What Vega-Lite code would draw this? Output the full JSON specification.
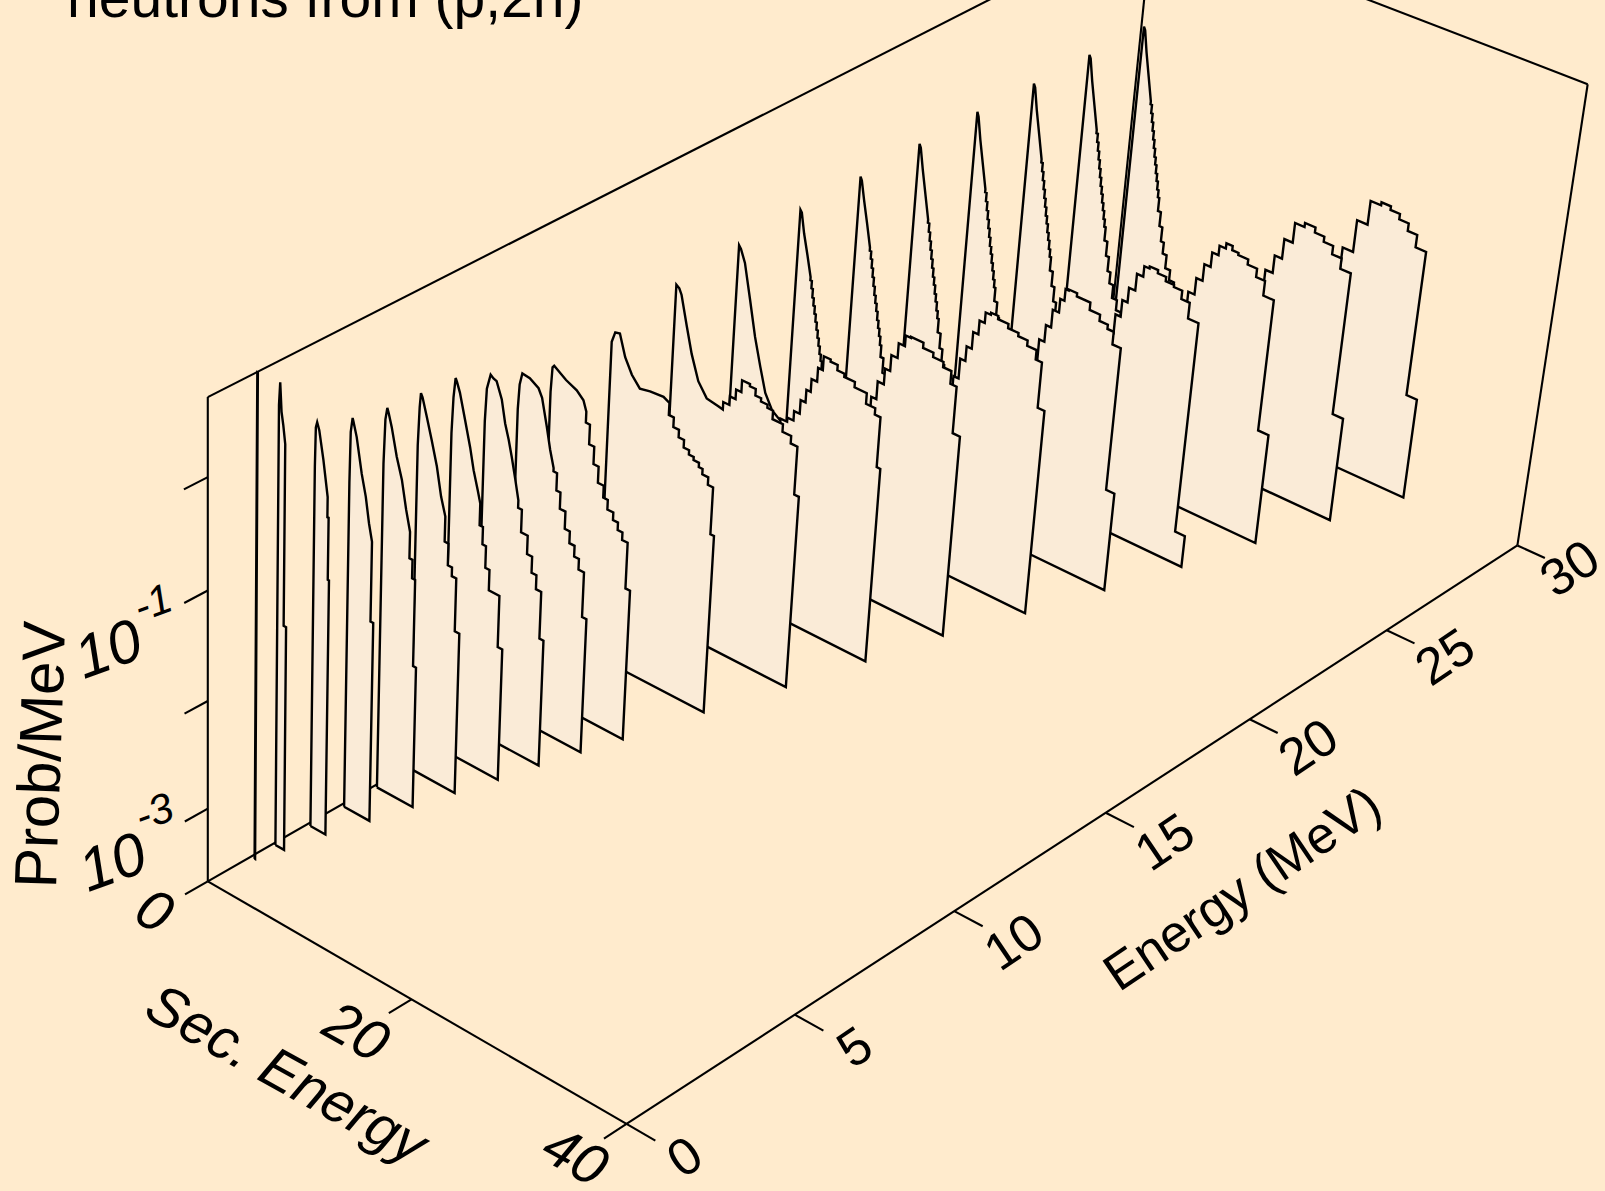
{"$schema":"https://vega.github.io/schema/vega-lite/v6.json","width":1605,"height":1191,"autosize":{"type":"fit","contains":"padding"},"padding":0,"background":"#FFEBCD","config":{"view":{"stroke":null}},
"datasets":{
"frame":[
{"seg":"floorFront","i":1,"E":0,"s":0,"lp":-3.69},{"seg":"floorFront","i":2,"E":0,"s":40,"lp":-3.69},
{"seg":"floorRight","i":1,"E":0,"s":40,"lp":-3.69},{"seg":"floorRight","i":2,"E":30,"s":40,"lp":-3.69},
{"seg":"floorBack","i":1,"E":0,"s":0,"lp":-3.69},{"seg":"floorBack","i":2,"E":30,"s":0,"lp":-3.69},
{"seg":"edgeO","i":1,"E":0,"s":0,"lp":-3.69},{"seg":"edgeO","i":2,"E":0,"s":0,"lp":0.69},
{"seg":"topBack","i":1,"E":0,"s":0,"lp":0.69},{"seg":"topBack","i":2,"E":30,"s":-0.75,"lp":0.69},
{"seg":"edgeB","i":1,"E":30,"s":40,"lp":-3.69},{"seg":"edgeB","i":2,"E":30,"s":40,"lp":0.753},
{"seg":"topRight","i":1,"E":30,"s":40,"lp":0.753},{"seg":"topRight","i":2,"E":30,"s":0,"lp":0.69},
{"seg":"edgeC","i":1,"E":30,"s":-0.75,"lp":-3.69},{"seg":"edgeC","i":2,"E":30,"s":-0.75,"lp":0.69},
{"seg":"tz-3","i":1,"E":0,"s":0,"lp":-3},{"seg":"tz-3","i":2,"E":-0.65,"s":0,"lp":-3},
{"seg":"tz-2","i":1,"E":0,"s":0,"lp":-2},{"seg":"tz-2","i":2,"E":-0.65,"s":0,"lp":-2},
{"seg":"tz-1","i":1,"E":0,"s":0,"lp":-1},{"seg":"tz-1","i":2,"E":-0.65,"s":0,"lp":-1},
{"seg":"tz0","i":1,"E":0,"s":0,"lp":0},{"seg":"tz0","i":2,"E":-0.65,"s":0,"lp":0},
{"seg":"ts0","i":1,"E":0,"s":0,"lp":-3.69},{"seg":"ts0","i":2,"E":-0.65,"s":0,"lp":-3.69},
{"seg":"ts20","i":1,"E":0,"s":20,"lp":-3.69},{"seg":"ts20","i":2,"E":-0.65,"s":20,"lp":-3.69},
{"seg":"ts40","i":1,"E":0,"s":40,"lp":-3.69},{"seg":"ts40","i":2,"E":-0.65,"s":40,"lp":-3.69},
{"seg":"te0","i":1,"E":0,"s":40,"lp":-3.69},{"seg":"te0","i":2,"E":0,"s":42.6,"lp":-3.69},
{"seg":"te5","i":1,"E":5,"s":40,"lp":-3.69},{"seg":"te5","i":2,"E":5,"s":42.6,"lp":-3.69},
{"seg":"te10","i":1,"E":10,"s":40,"lp":-3.69},{"seg":"te10","i":2,"E":10,"s":42.6,"lp":-3.69},
{"seg":"te15","i":1,"E":15,"s":40,"lp":-3.69},{"seg":"te15","i":2,"E":15,"s":42.6,"lp":-3.69},
{"seg":"te20","i":1,"E":20,"s":40,"lp":-3.69},{"seg":"te20","i":2,"E":20,"s":42.6,"lp":-3.69},
{"seg":"te25","i":1,"E":25,"s":40,"lp":-3.69},{"seg":"te25","i":2,"E":25,"s":42.6,"lp":-3.69},
{"seg":"te30","i":1,"E":30,"s":40,"lp":-3.69},{"seg":"te30","i":2,"E":30,"s":42.6,"lp":-3.69}
],
"labels":[
{"t":"neutrons from (p,2n)","g":"title","E":-3.55,"s":0,"lp":4.28},
{"t":"0","g":"sec","E":-1.55,"s":0,"lp":-3.69},{"t":"20","g":"sec","E":-1.6,"s":20,"lp":-3.69},{"t":"40","g":"sec","E":-1.5,"s":40,"lp":-3.69},{"t":"Sec. Energy","g":"sec","E":-3.55,"s":20,"lp":-3.69},
{"t":"0","g":"en","E":0,"s":45.3,"lp":-3.69},{"t":"5","g":"en","E":5,"s":45.5,"lp":-3.69},{"t":"10","g":"en","E":10,"s":45.5,"lp":-3.69},{"t":"15","g":"en","E":15,"s":45.5,"lp":-3.69},{"t":"20","g":"en","E":20,"s":45.5,"lp":-3.69},{"t":"25","g":"en","E":25,"s":45.5,"lp":-3.69},{"t":"30","g":"en","E":30,"s":45,"lp":-3.69},{"t":"Energy (MeV)","g":"en","E":14.8,"s":53,"lp":-3.69},
{"t":"Prob/MeV","g":"prob","E":-4.5,"s":0,"lp":-1.675},
{"t":"10","g":"ten","E":-2.7,"s":0,"lp":-1.07},{"t":"10","g":"ten","E":-2.65,"s":0,"lp":-3.02},
{"t":"-1","g":"sup","E":-1.5,"s":0,"lp":-0.86},{"t":"-3","g":"sup","E":-1.5,"s":0,"lp":-2.76}
],
"curves":[
{"E":30,"lo":-0.5,"hi":-0.5,"lp":-3.73},{"E":30,"lo":-0.5,"hi":-0.35,"lp":-0.35,"lp2":-0.38},{"E":30,"lo":-0.35,"hi":0,"lp":-0.38,"lp2":-0.58},{"E":30,"lo":0,"hi":0.45,"lp":-0.58,"lp2":-0.8},{"E":30,"lo":0.45,"hi":0.9,"lp":-0.8,"lp2":-1.02},{"E":30,"lo":0.9,"hi":1.05,"lp":-1.05},{"E":30,"lo":1.05,"hi":1.2,"lp":-1.13},{"E":30,"lo":1.2,"hi":1.35,"lp":-1.21},{"E":30,"lo":1.35,"hi":1.5,"lp":-1.29},{"E":30,"lo":1.5,"hi":1.65,"lp":-1.37},{"E":30,"lo":1.65,"hi":1.8,"lp":-1.45},{"E":30,"lo":1.8,"hi":1.95,"lp":-1.53},{"E":30,"lo":1.95,"hi":2.1,"lp":-1.6},{"E":30,"lo":2.1,"hi":2.25,"lp":-1.68},{"E":30,"lo":2.25,"hi":2.4,"lp":-1.75},{"E":30,"lo":2.4,"hi":2.55,"lp":-1.83},{"E":30,"lo":2.55,"hi":2.7,"lp":-1.9},{"E":30,"lo":2.7,"hi":3,"lp":-2.03},{"E":30,"lo":3,"hi":3.3,"lp":-2.17},{"E":30,"lo":3.3,"hi":3.6,"lp":-2.31},{"E":30,"lo":3.6,"hi":4,"lp":-2.42},{"E":30,"lo":4,"hi":4.5,"lp":-2.55},{"E":30,"lo":4.5,"hi":5,"lp":-2.65},{"E":30,"lo":5,"hi":18,"lp":-2.85},{"E":30,"lo":18,"hi":19,"lp":-2.4},{"E":30,"lo":19,"hi":19.9,"lp":-2.1},{"E":30,"lo":19.9,"hi":20.5,"lp":-1.85},{"E":30,"lo":20.5,"hi":21.5,"lp":-1.62},{"E":30,"lo":21.5,"hi":22.5,"lp":-1.31},{"E":30,"lo":22.5,"hi":23.5,"lp":-1.08},{"E":30,"lo":23.5,"hi":24.4,"lp":-1.05},{"E":30,"lo":24.4,"hi":25.3,"lp":-1.085},{"E":30,"lo":25.3,"hi":26.2,"lp":-1.137},{"E":30,"lo":26.2,"hi":27.1,"lp":-1.21},{"E":30,"lo":27.1,"hi":28.1,"lp":-1.33},{"E":30,"lo":28.1,"hi":29.1,"lp":-2.74},{"E":30,"lo":29.1,"hi":-0.5,"lp":-3.73},
{"E":28,"lo":-0.5,"hi":-0.5,"lp":-3.73},{"E":28,"lo":-0.5,"hi":-0.35,"lp":-0.35,"lp2":-0.38},{"E":28,"lo":-0.35,"hi":0,"lp":-0.38,"lp2":-0.58},{"E":28,"lo":0,"hi":0.45,"lp":-0.58,"lp2":-0.8},{"E":28,"lo":0.45,"hi":0.9,"lp":-0.8,"lp2":-1.02},{"E":28,"lo":0.9,"hi":1.05,"lp":-1.05},{"E":28,"lo":1.05,"hi":1.2,"lp":-1.13},{"E":28,"lo":1.2,"hi":1.35,"lp":-1.21},{"E":28,"lo":1.35,"hi":1.5,"lp":-1.29},{"E":28,"lo":1.5,"hi":1.65,"lp":-1.37},{"E":28,"lo":1.65,"hi":1.8,"lp":-1.45},{"E":28,"lo":1.8,"hi":1.95,"lp":-1.53},{"E":28,"lo":1.95,"hi":2.1,"lp":-1.6},{"E":28,"lo":2.1,"hi":2.25,"lp":-1.68},{"E":28,"lo":2.25,"hi":2.4,"lp":-1.75},{"E":28,"lo":2.4,"hi":2.55,"lp":-1.83},{"E":28,"lo":2.55,"hi":2.7,"lp":-1.9},{"E":28,"lo":2.7,"hi":3,"lp":-2.03},{"E":28,"lo":3,"hi":3.3,"lp":-2.17},{"E":28,"lo":3.3,"hi":3.6,"lp":-2.31},{"E":28,"lo":3.6,"hi":4,"lp":-2.42},{"E":28,"lo":4,"hi":4.5,"lp":-2.55},{"E":28,"lo":4.5,"hi":5,"lp":-2.65},{"E":28,"lo":5,"hi":16,"lp":-2.8},{"E":28,"lo":16,"hi":17,"lp":-2.3},{"E":28,"lo":17,"hi":17.6,"lp":-2},{"E":28,"lo":17.6,"hi":18.2,"lp":-1.8},{"E":28,"lo":18.2,"hi":18.9,"lp":-1.64},{"E":28,"lo":18.9,"hi":19.6,"lp":-1.47},{"E":28,"lo":19.6,"hi":20.4,"lp":-1.28},{"E":28,"lo":20.4,"hi":21.3,"lp":-1.09},{"E":28,"lo":21.3,"hi":22.3,"lp":-1.05},{"E":28,"lo":22.3,"hi":23.2,"lp":-1.1},{"E":28,"lo":23.2,"hi":24.1,"lp":-1.15},{"E":28,"lo":24.1,"hi":25,"lp":-1.23},{"E":28,"lo":25,"hi":26,"lp":-1.33},{"E":28,"lo":26,"hi":27,"lp":-2.71},{"E":28,"lo":27,"hi":-0.5,"lp":-3.73},
{"E":26,"lo":-0.5,"hi":-0.5,"lp":-3.73},{"E":26,"lo":-0.5,"hi":-0.35,"lp":-0.35,"lp2":-0.38},{"E":26,"lo":-0.35,"hi":0,"lp":-0.38,"lp2":-0.58},{"E":26,"lo":0,"hi":0.45,"lp":-0.58,"lp2":-0.8},{"E":26,"lo":0.45,"hi":0.9,"lp":-0.8,"lp2":-1.02},{"E":26,"lo":0.9,"hi":1.05,"lp":-1.05},{"E":26,"lo":1.05,"hi":1.2,"lp":-1.13},{"E":26,"lo":1.2,"hi":1.35,"lp":-1.21},{"E":26,"lo":1.35,"hi":1.5,"lp":-1.29},{"E":26,"lo":1.5,"hi":1.65,"lp":-1.37},{"E":26,"lo":1.65,"hi":1.8,"lp":-1.45},{"E":26,"lo":1.8,"hi":1.95,"lp":-1.53},{"E":26,"lo":1.95,"hi":2.1,"lp":-1.6},{"E":26,"lo":2.1,"hi":2.25,"lp":-1.68},{"E":26,"lo":2.25,"hi":2.4,"lp":-1.75},{"E":26,"lo":2.4,"hi":2.55,"lp":-1.83},{"E":26,"lo":2.55,"hi":2.7,"lp":-1.9},{"E":26,"lo":2.7,"hi":3,"lp":-2.03},{"E":26,"lo":3,"hi":3.3,"lp":-2.17},{"E":26,"lo":3.3,"hi":3.6,"lp":-2.31},{"E":26,"lo":3.6,"hi":4,"lp":-2.42},{"E":26,"lo":4,"hi":4.5,"lp":-2.55},{"E":26,"lo":4.5,"hi":5,"lp":-2.65},{"E":26,"lo":5,"hi":14,"lp":-2.75},{"E":26,"lo":14,"hi":15,"lp":-2.3},{"E":26,"lo":15,"hi":15.5,"lp":-2},{"E":26,"lo":15.5,"hi":16,"lp":-1.82},{"E":26,"lo":16,"hi":16.6,"lp":-1.65},{"E":26,"lo":16.6,"hi":17.2,"lp":-1.49},{"E":26,"lo":17.2,"hi":17.8,"lp":-1.33},{"E":26,"lo":17.8,"hi":18.4,"lp":-1.19},{"E":26,"lo":18.4,"hi":19,"lp":-1.1},{"E":26,"lo":19,"hi":19.6,"lp":-1.05},{"E":26,"lo":19.6,"hi":20.2,"lp":-1.09},{"E":26,"lo":20.2,"hi":21.15,"lp":-1.11},{"E":26,"lo":21.15,"hi":22.05,"lp":-1.16},{"E":26,"lo":22.05,"hi":22.9,"lp":-1.24},{"E":26,"lo":22.9,"hi":23.9,"lp":-1.38},{"E":26,"lo":23.9,"hi":24.9,"lp":-2.65},{"E":26,"lo":24.9,"hi":-0.5,"lp":-3.73},
{"E":24,"lo":-0.5,"hi":-0.5,"lp":-3.73},{"E":24,"lo":-0.5,"hi":-0.35,"lp":-0.34,"lp2":-0.38},{"E":24,"lo":-0.35,"hi":0,"lp":-0.38,"lp2":-0.58},{"E":24,"lo":0,"hi":0.45,"lp":-0.58,"lp2":-0.8},{"E":24,"lo":0.45,"hi":0.9,"lp":-0.8,"lp2":-1.02},{"E":24,"lo":0.9,"hi":1.05,"lp":-1.05},{"E":24,"lo":1.05,"hi":1.2,"lp":-1.13},{"E":24,"lo":1.2,"hi":1.35,"lp":-1.21},{"E":24,"lo":1.35,"hi":1.5,"lp":-1.29},{"E":24,"lo":1.5,"hi":1.65,"lp":-1.37},{"E":24,"lo":1.65,"hi":1.8,"lp":-1.45},{"E":24,"lo":1.8,"hi":1.95,"lp":-1.53},{"E":24,"lo":1.95,"hi":2.1,"lp":-1.6},{"E":24,"lo":2.1,"hi":2.25,"lp":-1.68},{"E":24,"lo":2.25,"hi":2.4,"lp":-1.75},{"E":24,"lo":2.4,"hi":2.55,"lp":-1.83},{"E":24,"lo":2.55,"hi":2.7,"lp":-1.9},{"E":24,"lo":2.7,"hi":3,"lp":-2.03},{"E":24,"lo":3,"hi":3.3,"lp":-2.17},{"E":24,"lo":3.3,"hi":3.6,"lp":-2.31},{"E":24,"lo":3.6,"hi":4,"lp":-2.42},{"E":24,"lo":4,"hi":4.5,"lp":-2.55},{"E":24,"lo":4.5,"hi":5,"lp":-2.65},{"E":24,"lo":5,"hi":12,"lp":-2.7},{"E":24,"lo":12,"hi":13.2,"lp":-2.3},{"E":24,"lo":13.2,"hi":13.8,"lp":-2},{"E":24,"lo":13.8,"hi":14.3,"lp":-1.82},{"E":24,"lo":14.3,"hi":14.8,"lp":-1.64},{"E":24,"lo":14.8,"hi":15.3,"lp":-1.48},{"E":24,"lo":15.3,"hi":15.9,"lp":-1.34},{"E":24,"lo":15.9,"hi":16.5,"lp":-1.18},{"E":24,"lo":16.5,"hi":17,"lp":-1.08},{"E":24,"lo":17,"hi":17.8,"lp":-1.06},{"E":24,"lo":17.8,"hi":18.6,"lp":-1.09},{"E":24,"lo":18.6,"hi":19.4,"lp":-1.13},{"E":24,"lo":19.4,"hi":20.2,"lp":-1.15},{"E":24,"lo":20.2,"hi":21,"lp":-1.23},{"E":24,"lo":21,"hi":22,"lp":-1.38},{"E":24,"lo":22,"hi":22.95,"lp":-3.42},{"E":24,"lo":22.95,"hi":-0.5,"lp":-3.73},
{"E":22,"lo":-0.5,"hi":-0.5,"lp":-3.73},{"E":22,"lo":-0.5,"hi":-0.35,"lp":-0.36,"lp2":-0.39},{"E":22,"lo":-0.35,"hi":0,"lp":-0.39,"lp2":-0.58},{"E":22,"lo":0,"hi":0.45,"lp":-0.58,"lp2":-0.8},{"E":22,"lo":0.45,"hi":0.9,"lp":-0.8,"lp2":-1.02},{"E":22,"lo":0.9,"hi":1.05,"lp":-1.05},{"E":22,"lo":1.05,"hi":1.2,"lp":-1.13},{"E":22,"lo":1.2,"hi":1.35,"lp":-1.21},{"E":22,"lo":1.35,"hi":1.5,"lp":-1.29},{"E":22,"lo":1.5,"hi":1.65,"lp":-1.37},{"E":22,"lo":1.65,"hi":1.8,"lp":-1.45},{"E":22,"lo":1.8,"hi":1.95,"lp":-1.53},{"E":22,"lo":1.95,"hi":2.1,"lp":-1.6},{"E":22,"lo":2.1,"hi":2.25,"lp":-1.68},{"E":22,"lo":2.25,"hi":2.4,"lp":-1.75},{"E":22,"lo":2.4,"hi":2.55,"lp":-1.83},{"E":22,"lo":2.55,"hi":2.7,"lp":-1.9},{"E":22,"lo":2.7,"hi":3,"lp":-2.03},{"E":22,"lo":3,"hi":3.3,"lp":-2.17},{"E":22,"lo":3.3,"hi":3.6,"lp":-2.31},{"E":22,"lo":3.6,"hi":4,"lp":-2.42},{"E":22,"lo":4,"hi":4.5,"lp":-2.55},{"E":22,"lo":4.5,"hi":5,"lp":-2.65},{"E":22,"lo":5,"hi":9,"lp":-2.6},{"E":22,"lo":9,"hi":11.9,"lp":-2.2},{"E":22,"lo":11.9,"hi":12.4,"lp":-1.85},{"E":22,"lo":12.4,"hi":12.9,"lp":-1.66},{"E":22,"lo":12.9,"hi":13.4,"lp":-1.5},{"E":22,"lo":13.4,"hi":14,"lp":-1.33},{"E":22,"lo":14,"hi":14.4,"lp":-1.2},{"E":22,"lo":14.4,"hi":14.7,"lp":-1.09},{"E":22,"lo":14.7,"hi":15.5,"lp":-1.08},{"E":22,"lo":15.5,"hi":16.8,"lp":-1.11},{"E":22,"lo":16.8,"hi":17.8,"lp":-1.18},{"E":22,"lo":17.8,"hi":18.6,"lp":-1.24},{"E":22,"lo":18.6,"hi":19.2,"lp":-1.28},{"E":22,"lo":19.2,"hi":20,"lp":-1.4},{"E":22,"lo":20,"hi":20.8,"lp":-2.77},{"E":22,"lo":20.8,"hi":-0.5,"lp":-3.73},
{"E":20,"lo":-0.5,"hi":-0.5,"lp":-3.73},{"E":20,"lo":-0.5,"hi":-0.35,"lp":-0.38,"lp2":-0.41},{"E":20,"lo":-0.35,"hi":0,"lp":-0.41,"lp2":-0.58},{"E":20,"lo":0,"hi":0.45,"lp":-0.58,"lp2":-0.78},{"E":20,"lo":0.45,"hi":0.9,"lp":-0.78,"lp2":-0.99},{"E":20,"lo":0.9,"hi":1.05,"lp":-1.02},{"E":20,"lo":1.05,"hi":1.2,"lp":-1.09},{"E":20,"lo":1.2,"hi":1.35,"lp":-1.17},{"E":20,"lo":1.35,"hi":1.5,"lp":-1.25},{"E":20,"lo":1.5,"hi":1.65,"lp":-1.33},{"E":20,"lo":1.65,"hi":1.8,"lp":-1.41},{"E":20,"lo":1.8,"hi":1.95,"lp":-1.48},{"E":20,"lo":1.95,"hi":2.1,"lp":-1.55},{"E":20,"lo":2.1,"hi":2.25,"lp":-1.63},{"E":20,"lo":2.25,"hi":2.4,"lp":-1.7},{"E":20,"lo":2.4,"hi":2.55,"lp":-1.77},{"E":20,"lo":2.55,"hi":2.7,"lp":-1.85},{"E":20,"lo":2.7,"hi":3,"lp":-1.96},{"E":20,"lo":3,"hi":3.3,"lp":-2.1},{"E":20,"lo":3.3,"hi":3.6,"lp":-2.22},{"E":20,"lo":3.6,"hi":4,"lp":-2.33},{"E":20,"lo":4,"hi":6,"lp":-2.45},{"E":20,"lo":6,"hi":9,"lp":-2.4},{"E":20,"lo":9,"hi":9.8,"lp":-2.05},{"E":20,"lo":9.8,"hi":10.3,"lp":-1.82},{"E":20,"lo":10.3,"hi":10.8,"lp":-1.63},{"E":20,"lo":10.8,"hi":11.3,"lp":-1.49},{"E":20,"lo":11.3,"hi":11.8,"lp":-1.33},{"E":20,"lo":11.8,"hi":12.3,"lp":-1.2},{"E":20,"lo":12.3,"hi":12.8,"lp":-1.1},{"E":20,"lo":12.8,"hi":13.5,"lp":-1.08},{"E":20,"lo":13.5,"hi":14.5,"lp":-1.11},{"E":20,"lo":14.5,"hi":15.5,"lp":-1.15},{"E":20,"lo":15.5,"hi":16.4,"lp":-1.18},{"E":20,"lo":16.4,"hi":17.3,"lp":-1.23},{"E":20,"lo":17.3,"hi":17.9,"lp":-1.32},{"E":20,"lo":17.9,"hi":18.55,"lp":-1.75},{"E":20,"lo":18.55,"hi":-0.5,"lp":-3.73},
{"E":18,"lo":-0.5,"hi":-0.5,"lp":-3.73},{"E":18,"lo":-0.5,"hi":-0.35,"lp":-0.4,"lp2":-0.42},{"E":18,"lo":-0.35,"hi":0,"lp":-0.42,"lp2":-0.6},{"E":18,"lo":0,"hi":0.45,"lp":-0.6,"lp2":-0.78},{"E":18,"lo":0.45,"hi":0.9,"lp":-0.78,"lp2":-0.97},{"E":18,"lo":0.9,"hi":1.05,"lp":-1},{"E":18,"lo":1.05,"hi":1.2,"lp":-1.07},{"E":18,"lo":1.2,"hi":1.35,"lp":-1.15},{"E":18,"lo":1.35,"hi":1.5,"lp":-1.22},{"E":18,"lo":1.5,"hi":1.65,"lp":-1.29},{"E":18,"lo":1.65,"hi":1.8,"lp":-1.36},{"E":18,"lo":1.8,"hi":1.95,"lp":-1.43},{"E":18,"lo":1.95,"hi":2.1,"lp":-1.5},{"E":18,"lo":2.1,"hi":2.25,"lp":-1.57},{"E":18,"lo":2.25,"hi":2.4,"lp":-1.64},{"E":18,"lo":2.4,"hi":2.55,"lp":-1.7},{"E":18,"lo":2.55,"hi":2.7,"lp":-1.76},{"E":18,"lo":2.7,"hi":3,"lp":-1.88},{"E":18,"lo":3,"hi":3.6,"lp":-2.05},{"E":18,"lo":3.6,"hi":4.2,"lp":-2.2},{"E":18,"lo":4.2,"hi":6,"lp":-2.45},{"E":18,"lo":6,"hi":7,"lp":-2.3},{"E":18,"lo":7,"hi":7.5,"lp":-2},{"E":18,"lo":7.5,"hi":8,"lp":-1.81},{"E":18,"lo":8,"hi":8.6,"lp":-1.64},{"E":18,"lo":8.6,"hi":9.1,"lp":-1.49},{"E":18,"lo":9.1,"hi":9.7,"lp":-1.34},{"E":18,"lo":9.7,"hi":10.3,"lp":-1.2},{"E":18,"lo":10.3,"hi":10.8,"lp":-1.1},{"E":18,"lo":10.8,"hi":12,"lp":-1.09},{"E":18,"lo":12,"hi":13,"lp":-1.14},{"E":18,"lo":13,"hi":14,"lp":-1.18},{"E":18,"lo":14,"hi":14.8,"lp":-1.23},{"E":18,"lo":14.8,"hi":15.4,"lp":-1.35},{"E":18,"lo":15.4,"hi":16.1,"lp":-1.79},{"E":18,"lo":16.1,"hi":-0.5,"lp":-3.73},
{"E":16,"lo":-0.5,"hi":-0.5,"lp":-3.73},{"E":16,"lo":-0.5,"hi":-0.3,"lp":-0.435,"lp2":-0.46},{"E":16,"lo":-0.3,"hi":0.16,"lp":-0.46,"lp2":-0.57},{"E":16,"lo":0.16,"hi":0.86,"lp":-0.57,"lp2":-0.88},{"E":16,"lo":0.86,"hi":1.56,"lp":-0.88,"lp2":-1.2},{"E":16,"lo":1.56,"hi":2.24,"lp":-1.2,"lp2":-1.45},{"E":16,"lo":2.24,"hi":2.88,"lp":-1.45,"lp2":-1.67},{"E":16,"lo":2.88,"hi":3.63,"lp":-1.67,"lp2":-1.8},{"E":16,"lo":3.63,"hi":4.5,"lp":-1.8,"lp2":-1.86},{"E":16,"lo":4.5,"hi":5.15,"lp":-1.84},{"E":16,"lo":5.15,"hi":5.75,"lp":-1.8},{"E":16,"lo":5.75,"hi":6.3,"lp":-1.71},{"E":16,"lo":6.3,"hi":6.78,"lp":-1.58},{"E":16,"lo":6.78,"hi":7.2,"lp":-1.46},{"E":16,"lo":7.2,"hi":7.74,"lp":-1.34},{"E":16,"lo":7.74,"hi":8.2,"lp":-1.21},{"E":16,"lo":8.2,"hi":8.87,"lp":-1.08},{"E":16,"lo":8.87,"hi":9.56,"lp":-1.1},{"E":16,"lo":9.56,"hi":10.25,"lp":-1.15},{"E":16,"lo":10.25,"hi":11.28,"lp":-1.18},{"E":16,"lo":11.28,"hi":12.46,"lp":-1.23},{"E":16,"lo":12.46,"hi":13.35,"lp":-1.33},{"E":16,"lo":13.35,"hi":13.9,"lp":-1.39},{"E":16,"lo":13.9,"hi":14.25,"lp":-1.86},{"E":16,"lo":14.25,"hi":-0.5,"lp":-3.73},
{"E":14,"lo":-0.5,"hi":-0.5,"lp":-3.73},{"E":14,"lo":-0.5,"hi":-0.2,"lp":-0.5,"lp2":-0.52},{"E":14,"lo":-0.2,"hi":0.05,"lp":-0.52,"lp2":-0.57},{"E":14,"lo":0.05,"hi":0.71,"lp":-0.57,"lp2":-0.83},{"E":14,"lo":0.71,"hi":1.32,"lp":-0.83,"lp2":-1.06},{"E":14,"lo":1.32,"hi":2.1,"lp":-1.06,"lp2":-1.28},{"E":14,"lo":2.1,"hi":3,"lp":-1.28,"lp2":-1.4},{"E":14,"lo":3,"hi":4.15,"lp":-1.4,"lp2":-1.42},{"E":14,"lo":4.15,"hi":4.6,"lp":-1.42,"lp2":-1.43},{"E":14,"lo":4.6,"hi":5.2,"lp":-1.36},{"E":14,"lo":5.2,"hi":5.75,"lp":-1.28},{"E":14,"lo":5.75,"hi":6.26,"lp":-1.19},{"E":14,"lo":6.26,"hi":7.03,"lp":-1.08},{"E":14,"lo":7.03,"hi":7.6,"lp":-1.1},{"E":14,"lo":7.6,"hi":8.16,"lp":-1.16},{"E":14,"lo":8.16,"hi":8.8,"lp":-1.19},{"E":14,"lo":8.8,"hi":9.35,"lp":-1.22},{"E":14,"lo":9.35,"hi":10.36,"lp":-1.3},{"E":14,"lo":10.36,"hi":11.2,"lp":-1.37},{"E":14,"lo":11.2,"hi":11.85,"lp":-1.44},{"E":14,"lo":11.85,"hi":12.3,"lp":-1.89},{"E":14,"lo":12.3,"hi":-0.5,"lp":-3.73},
{"E":12,"lo":-0.5,"hi":-0.5,"lp":-3.73},{"E":12,"lo":-0.5,"hi":-0.2,"lp":-0.72,"lp2":-0.62},{"E":12,"lo":-0.2,"hi":0.25,"lp":-0.62,"lp2":-0.61},{"E":12,"lo":0.25,"hi":0.86,"lp":-0.61,"lp2":-0.8},{"E":12,"lo":0.86,"hi":1.58,"lp":-0.8,"lp2":-0.93},{"E":12,"lo":1.58,"hi":2.41,"lp":-0.93,"lp2":-1.02},{"E":12,"lo":2.41,"hi":3.39,"lp":-1.02,"lp2":-1},{"E":12,"lo":3.39,"hi":4.7,"lp":-1,"lp2":-0.99},{"E":12,"lo":4.7,"hi":5.29,"lp":-0.99,"lp2":-1.02},{"E":12,"lo":5.29,"hi":5.78,"lp":-1.13},{"E":12,"lo":5.78,"hi":6.33,"lp":-1.22},{"E":12,"lo":6.33,"hi":6.86,"lp":-1.29},{"E":12,"lo":6.86,"hi":7.39,"lp":-1.36},{"E":12,"lo":7.39,"hi":7.86,"lp":-1.4},{"E":12,"lo":7.86,"hi":8.39,"lp":-1.43},{"E":12,"lo":8.39,"hi":8.76,"lp":-1.47},{"E":12,"lo":8.76,"hi":9.34,"lp":-1.52},{"E":12,"lo":9.34,"hi":9.85,"lp":-1.59},{"E":12,"lo":9.85,"hi":10.2,"lp":-2.03},{"E":12,"lo":10.2,"hi":-0.5,"lp":-3.73},
{"E":10,"lo":-0.1,"hi":-0.1,"lp":-3.73},{"E":10,"lo":-0.1,"hi":0,"lp":-0.85,"lp2":-0.62},{"E":10,"lo":0,"hi":0.15,"lp":-0.62,"lp2":-0.6},{"E":10,"lo":0.15,"hi":1.34,"lp":-0.6,"lp2":-0.675},{"E":10,"lo":1.34,"hi":2.4,"lp":-0.675,"lp2":-0.72},{"E":10,"lo":2.4,"hi":3.08,"lp":-0.72,"lp2":-0.78},{"E":10,"lo":3.08,"hi":3.4,"lp":-0.78,"lp2":-0.87},{"E":10,"lo":3.4,"hi":3.8,"lp":-0.97},{"E":10,"lo":3.8,"hi":4.3,"lp":-1.15},{"E":10,"lo":4.3,"hi":4.8,"lp":-1.31},{"E":10,"lo":4.8,"hi":5.37,"lp":-1.46},{"E":10,"lo":5.37,"hi":5.82,"lp":-1.57},{"E":10,"lo":5.82,"hi":6.4,"lp":-1.66},{"E":10,"lo":6.4,"hi":6.89,"lp":-1.73},{"E":10,"lo":6.89,"hi":7.36,"lp":-1.8},{"E":10,"lo":7.36,"hi":7.9,"lp":-1.87},{"E":10,"lo":7.9,"hi":8.35,"lp":-2.3},{"E":10,"lo":8.35,"hi":-0.1,"lp":-3.73},
{"E":9,"lo":-0.1,"hi":-0.1,"lp":-3.73},{"E":9,"lo":-0.1,"hi":0,"lp":-0.85,"lp2":-0.62},{"E":9,"lo":0,"hi":0.22,"lp":-0.62,"lp2":-0.51},{"E":9,"lo":0.22,"hi":0.95,"lp":-0.51,"lp2":-0.52},{"E":9,"lo":0.95,"hi":1.82,"lp":-0.52,"lp2":-0.57},{"E":9,"lo":1.82,"hi":2.19,"lp":-0.57,"lp2":-0.64},{"E":9,"lo":2.19,"hi":2.75,"lp":-0.64,"lp2":-0.88},{"E":9,"lo":2.75,"hi":3.15,"lp":-0.88,"lp2":-1.07},{"E":9,"lo":3.15,"hi":3.55,"lp":-1.07,"lp2":-1.22},{"E":9,"lo":3.55,"hi":3.9,"lp":-1.25},{"E":9,"lo":3.9,"hi":4.3,"lp":-1.41},{"E":9,"lo":4.3,"hi":4.85,"lp":-1.56},{"E":9,"lo":4.85,"hi":5.35,"lp":-1.72},{"E":9,"lo":5.35,"hi":5.86,"lp":-1.83},{"E":9,"lo":5.86,"hi":6.33,"lp":-1.93},{"E":9,"lo":6.33,"hi":6.87,"lp":-2.03},{"E":9,"lo":6.87,"hi":7.3,"lp":-2.45},{"E":9,"lo":7.3,"hi":-0.1,"lp":-3.73},
{"E":8,"lo":-0.1,"hi":-0.1,"lp":-3.73},{"E":8,"lo":-0.1,"hi":0,"lp":-0.8,"lp2":-0.5},{"E":8,"lo":0,"hi":0.32,"lp":-0.5,"lp2":-0.36},{"E":8,"lo":0.32,"hi":0.6,"lp":-0.36,"lp2":-0.38},{"E":8,"lo":0.6,"hi":0.91,"lp":-0.38,"lp2":-0.39},{"E":8,"lo":0.91,"hi":1.46,"lp":-0.39,"lp2":-0.53},{"E":8,"lo":1.46,"hi":1.86,"lp":-0.53,"lp2":-0.73},{"E":8,"lo":1.86,"hi":2.25,"lp":-0.73,"lp2":-0.86},{"E":8,"lo":2.25,"hi":2.6,"lp":-0.86,"lp2":-1},{"E":8,"lo":2.6,"hi":3,"lp":-1,"lp2":-1.18},{"E":8,"lo":3,"hi":3.38,"lp":-1.18,"lp2":-1.36},{"E":8,"lo":3.38,"hi":3.75,"lp":-1.43},{"E":8,"lo":3.75,"hi":4.4,"lp":-1.64},{"E":8,"lo":4.4,"hi":4.9,"lp":-1.81},{"E":8,"lo":4.9,"hi":5.38,"lp":-1.96},{"E":8,"lo":5.38,"hi":5.9,"lp":-2.09},{"E":8,"lo":5.9,"hi":6.3,"lp":-2.53},{"E":8,"lo":6.3,"hi":-0.1,"lp":-3.73},
{"E":7,"lo":-0.1,"hi":-0.1,"lp":-3.73},{"E":7,"lo":-0.1,"hi":0,"lp":-0.75,"lp2":-0.42},{"E":7,"lo":0,"hi":0.15,"lp":-0.42,"lp2":-0.24},{"E":7,"lo":0.15,"hi":0.3,"lp":-0.24,"lp2":-0.27},{"E":7,"lo":0.3,"hi":0.6,"lp":-0.27,"lp2":-0.35},{"E":7,"lo":0.6,"hi":1.17,"lp":-0.35,"lp2":-0.57},{"E":7,"lo":1.17,"hi":1.73,"lp":-0.57,"lp2":-0.79},{"E":7,"lo":1.73,"hi":2.13,"lp":-0.79,"lp2":-0.98},{"E":7,"lo":2.13,"hi":2.58,"lp":-0.98,"lp2":-1.14},{"E":7,"lo":2.58,"hi":2.87,"lp":-1.14,"lp2":-1.25},{"E":7,"lo":2.87,"hi":3.2,"lp":-1.45},{"E":7,"lo":3.2,"hi":3.55,"lp":-1.61},{"E":7,"lo":3.55,"hi":3.96,"lp":-1.81},{"E":7,"lo":3.96,"hi":5,"lp":-2},{"E":7,"lo":5,"hi":5.45,"lp":-2.48},{"E":7,"lo":5.45,"hi":-0.1,"lp":-3.73},
{"E":6,"lo":-0.1,"hi":-0.1,"lp":-3.73},{"E":6,"lo":-0.1,"hi":0,"lp":-0.7,"lp2":-0.35},{"E":6,"lo":0,"hi":0.09,"lp":-0.35,"lp2":-0.22},{"E":6,"lo":0.09,"hi":0.25,"lp":-0.22,"lp2":-0.25},{"E":6,"lo":0.25,"hi":0.69,"lp":-0.25,"lp2":-0.4},{"E":6,"lo":0.69,"hi":1.23,"lp":-0.4,"lp2":-0.59},{"E":6,"lo":1.23,"hi":1.79,"lp":-0.59,"lp2":-0.8},{"E":6,"lo":1.79,"hi":2.27,"lp":-0.8,"lp2":-1.05},{"E":6,"lo":2.27,"hi":2.73,"lp":-1.05,"lp2":-1.21},{"E":6,"lo":2.73,"hi":3.1,"lp":-1.44},{"E":6,"lo":3.1,"hi":3.51,"lp":-1.64},{"E":6,"lo":3.51,"hi":3.95,"lp":-1.72},{"E":6,"lo":3.95,"hi":4.4,"lp":-2.21},{"E":6,"lo":4.4,"hi":-0.1,"lp":-3.73},
{"E":5,"lo":-0.1,"hi":-0.1,"lp":-3.73},{"E":5,"lo":-0.1,"hi":0,"lp":-0.7,"lp2":-0.3},{"E":5,"lo":0,"hi":0.16,"lp":-0.3,"lp2":-0.19},{"E":5,"lo":0.16,"hi":0.3,"lp":-0.19,"lp2":-0.23},{"E":5,"lo":0.3,"hi":0.62,"lp":-0.23,"lp2":-0.34},{"E":5,"lo":0.62,"hi":1.16,"lp":-0.34,"lp2":-0.58},{"E":5,"lo":1.16,"hi":1.7,"lp":-0.58,"lp2":-0.76},{"E":5,"lo":1.7,"hi":2.18,"lp":-0.76,"lp2":-1.01},{"E":5,"lo":2.18,"hi":2.6,"lp":-1.01,"lp2":-1.19},{"E":5,"lo":2.6,"hi":2.9,"lp":-1.43},{"E":5,"lo":2.9,"hi":3.2,"lp":-1.6},{"E":5,"lo":3.2,"hi":3.49,"lp":-2.4},{"E":5,"lo":3.49,"hi":-0.1,"lp":-3.73},
{"E":4,"lo":-0.05,"hi":-0.05,"lp":-3.73},{"E":4,"lo":-0.05,"hi":0,"lp":-0.7,"lp2":-0.25},{"E":4,"lo":0,"hi":0.16,"lp":-0.25,"lp2":-0.12},{"E":4,"lo":0.16,"hi":0.25,"lp":-0.12,"lp2":-0.15},{"E":4,"lo":0.25,"hi":0.58,"lp":-0.15,"lp2":-0.27},{"E":4,"lo":0.58,"hi":1.12,"lp":-0.27,"lp2":-0.57},{"E":4,"lo":1.12,"hi":1.55,"lp":-0.57,"lp2":-0.755},{"E":4,"lo":1.55,"hi":1.91,"lp":-0.755,"lp2":-0.98},{"E":4,"lo":1.91,"hi":2.23,"lp":-0.98,"lp2":-1.13},{"E":4,"lo":2.23,"hi":2.5,"lp":-1.86},{"E":4,"lo":2.5,"hi":-0.05,"lp":-3.73},
{"E":3,"lo":-0.05,"hi":-0.05,"lp":-3.73},{"E":3,"lo":-0.05,"hi":0,"lp":-0.4,"lp2":-0.05},{"E":3,"lo":0,"hi":0.12,"lp":-0.05,"lp2":0},{"E":3,"lo":0.12,"hi":0.33,"lp":0,"lp2":-0.06},{"E":3,"lo":0.33,"hi":0.76,"lp":-0.06,"lp2":-0.3},{"E":3,"lo":0.76,"hi":1.22,"lp":-0.3,"lp2":-0.61},{"E":3,"lo":1.22,"hi":1.34,"lp":-0.79},{"E":3,"lo":1.34,"hi":1.46,"lp":-1.35},{"E":3,"lo":1.46,"hi":-0.05,"lp":-3.73},
{"E":2,"lo":-0.15,"hi":-0.15,"lp":-3.73},{"E":2,"lo":-0.15,"hi":-0.05,"lp":0.3,"lp2":0.5},{"E":2,"lo":-0.05,"hi":0.1,"lp":0.5,"lp2":0.25},{"E":2,"lo":0.1,"hi":0.28,"lp":0.25,"lp2":0.14},{"E":2,"lo":0.28,"hi":0.48,"lp":0.14,"lp2":-0.015},{"E":2,"lo":0.48,"hi":0.72,"lp":-1.64},{"E":2,"lo":0.72,"hi":-0.15,"lp":-3.73},
{"E":1.35,"lo":0,"hi":0,"lp":-3.73},{"E":1.35,"lo":0,"hi":0.05,"lp":0.69},{"E":1.35,"lo":0.05,"hi":0,"lp":-3.73}
]},
"encoding":{"x":{"field":"px","type":"quantitative","scale":{"domain":[0,1605],"nice":false,"zero":false},"axis":null},"y":{"field":"py","type":"quantitative","scale":{"domain":[1191,0],"nice":false,"zero":false},"axis":null}},
"layer":[
{"data":{"name":"frame"},"transform":[{"calculate":"(datum.lp+3.69)/4.38","as":"z"},{"calculate":"1-0.00131*datum.s+0.00518*datum.E-0.0554*datum.z","as":"w"},{"calculate":"(207.8+9.647*datum.s+36*datum.E-11.52*datum.z)/datum.w","as":"px"},{"calculate":"(881.3+4.593*datum.s-15.446*datum.E-506.2*datum.z)/datum.w","as":"py"}],
"mark":{"type":"line","stroke":"#000000","strokeWidth":2.1,"clip":true},"encoding":{"detail":{"field":"seg"},"order":{"field":"i","type":"quantitative"}}},
{"data":{"name":"curves"},"transform":[{"fold":["lo","hi"],"as":["side","s"]},{"window":[{"op":"row_number","as":"i"}]},{"calculate":"(datum.side==='hi'&&isValid(datum.lp2)?datum.lp2:datum.lp)","as":"v"},{"calculate":"(datum.v+3.69)/4.38","as":"z"},{"calculate":"1-0.00131*datum.s+0.00518*datum.E-0.0554*datum.z","as":"w"},{"calculate":"(207.8+9.647*datum.s+36*datum.E-11.52*datum.z)/datum.w","as":"px"},{"calculate":"(881.3+4.593*datum.s-15.446*datum.E-506.2*datum.z)/datum.w","as":"py"}],
"mark":{"type":"line","stroke":"#000000","strokeWidth":2.4,"fill":"#FAEBD7","clip":true,"strokeJoin":"miter"},"encoding":{"detail":{"field":"E"},"order":{"field":"i","type":"quantitative"}}},
{"data":{"name":"labels"},"transform":[{"filter":"datum.g==='title'"},{"calculate":"(datum.lp+3.69)/4.38","as":"z"},{"calculate":"1-0.00131*datum.s+0.00518*datum.E-0.0554*datum.z","as":"w"},{"calculate":"(207.8+9.647*datum.s+36*datum.E-11.52*datum.z)/datum.w","as":"px"},{"calculate":"(881.3+4.593*datum.s-15.446*datum.E-506.2*datum.z)/datum.w","as":"py"}],
"mark":{"type":"text","font":"Liberation Sans","fontSize":57,"align":"left","baseline":"alphabetic","color":"#000000","clip":true},"encoding":{"text":{"field":"t"}}},
{"data":{"name":"labels"},"transform":[{"filter":"datum.g==='sec'"},{"calculate":"(datum.lp+3.69)/4.38","as":"z"},{"calculate":"1-0.00131*datum.s+0.00518*datum.E-0.0554*datum.z","as":"w"},{"calculate":"(207.8+9.647*datum.s+36*datum.E-11.52*datum.z)/datum.w","as":"px"},{"calculate":"(881.3+4.593*datum.s-15.446*datum.E-506.2*datum.z)/datum.w","as":"py"}],
"mark":{"type":"text","font":"Liberation Sans","fontStyle":"italic","fontSize":57,"angle":29,"align":"center","baseline":"middle","color":"#000000","clip":true},"encoding":{"text":{"field":"t"}}},
{"data":{"name":"labels"},"transform":[{"filter":"datum.g==='en'"},{"calculate":"(datum.lp+3.69)/4.38","as":"z"},{"calculate":"1-0.00131*datum.s+0.00518*datum.E-0.0554*datum.z","as":"w"},{"calculate":"(207.8+9.647*datum.s+36*datum.E-11.52*datum.z)/datum.w","as":"px"},{"calculate":"(881.3+4.593*datum.s-15.446*datum.E-506.2*datum.z)/datum.w","as":"py"}],
"mark":{"type":"text","font":"Liberation Sans","fontSize":52,"angle":326,"align":"center","baseline":"middle","color":"#000000","clip":true},"encoding":{"text":{"field":"t"}}},
{"data":{"name":"labels"},"transform":[{"filter":"datum.g==='prob'"},{"calculate":"(datum.lp+3.69)/4.38","as":"z"},{"calculate":"1-0.00131*datum.s+0.00518*datum.E-0.0554*datum.z","as":"w"},{"calculate":"(207.8+9.647*datum.s+36*datum.E-11.52*datum.z)/datum.w","as":"px"},{"calculate":"(881.3+4.593*datum.s-15.446*datum.E-506.2*datum.z)/datum.w","as":"py"}],
"mark":{"type":"text","font":"Liberation Sans","fontSize":60,"angle":272,"align":"center","baseline":"middle","color":"#000000","clip":true},"encoding":{"text":{"field":"t"}}},
{"data":{"name":"labels"},"transform":[{"filter":"datum.g==='ten'"},{"calculate":"(datum.lp+3.69)/4.38","as":"z"},{"calculate":"1-0.00131*datum.s+0.00518*datum.E-0.0554*datum.z","as":"w"},{"calculate":"(207.8+9.647*datum.s+36*datum.E-11.52*datum.z)/datum.w","as":"px"},{"calculate":"(881.3+4.593*datum.s-15.446*datum.E-506.2*datum.z)/datum.w","as":"py"}],
"mark":{"type":"text","font":"Liberation Sans","fontStyle":"italic","fontSize":60,"angle":340,"align":"center","baseline":"middle","color":"#000000","clip":true},"encoding":{"text":{"field":"t"}}},
{"data":{"name":"labels"},"transform":[{"filter":"datum.g==='sup'"},{"calculate":"(datum.lp+3.69)/4.38","as":"z"},{"calculate":"1-0.00131*datum.s+0.00518*datum.E-0.0554*datum.z","as":"w"},{"calculate":"(207.8+9.647*datum.s+36*datum.E-11.52*datum.z)/datum.w","as":"px"},{"calculate":"(881.3+4.593*datum.s-15.446*datum.E-506.2*datum.z)/datum.w","as":"py"}],
"mark":{"type":"text","font":"Liberation Sans","fontStyle":"italic","fontSize":42,"angle":340,"align":"center","baseline":"middle","color":"#000000","clip":true},"encoding":{"text":{"field":"t"}}}
]}
